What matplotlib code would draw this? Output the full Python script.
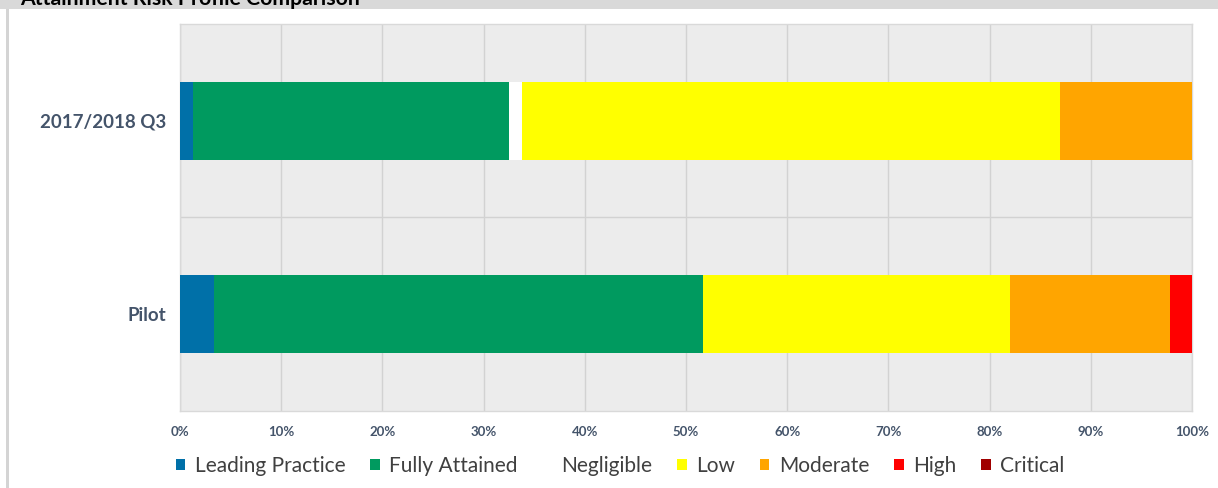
import matplotlib
matplotlib.use("Agg")
import matplotlib.pyplot as plt
from matplotlib.patches import Patch, Rectangle
import numpy as np

plt.rcParams['font.family'] = ['Lato', 'DejaVu Sans']

# Data: share of attainment / risk ratings per period (%)
periods = ["2017/2018 Q3", "Pilot"]
categories = ["Leading Practice", "Fully Attained", "Negligible", "Low", "Moderate", "High", "Critical"]
leading_practice = [1.3, 3.4]
fully_attained = [31.2, 48.3]
negligible = [1.3, 0.0]
low = [53.2, 30.3]
moderate = [13.0, 15.8]
high = [0.0, 2.2]
critical = [0.0, 0.0]
x_ticks = [0, 10, 20, 30, 40, 50, 60, 70, 80, 90, 100]
x_tick_labels = [f"{t}%" for t in x_ticks]

series = [leading_practice, fully_attained, negligible, low, moderate, high, critical]
colors = ["#0070a8", "#009a5f", "#ffffff", "#ffff00", "#ffa500", "#ff0000", "#a00000"]

W, H = 1218, 488
fig = plt.figure(figsize=(W / 100, H / 100), dpi=100)
fig.patch.set_facecolor("white")

# Header band and left frame line
fig.add_artist(Rectangle((0, 1 - 9 / H), 1, 9 / H, transform=fig.transFigure,
                         facecolor="#d9d9d9", edgecolor="none", zorder=0))
fig.add_artist(Rectangle((6 / W, 0), 2.5 / W, 1 - 9 / H, transform=fig.transFigure,
                         facecolor="#d4d4d4", edgecolor="none", zorder=0))
fig.text(20 / W, 1 - 5 / H, "Attainment Risk Profile Comparison", fontsize=15.3,
         fontweight="bold", color="black", va="baseline", ha="left")

ax = fig.add_axes([180 / W, (H - 410.5) / H, (1192 - 180) / W, (410.5 - 24.5) / H])
ax.set_facecolor("#ececec")

y = np.arange(len(periods))
left = np.zeros(len(periods))
for vals, col in zip(series, colors):
    ax.barh(y, vals, left=left, height=0.4, color=col, edgecolor="none", zorder=3)
    left += np.array(vals)

ax.set_xlim(0, 100)
ax.set_ylim(1.5, -0.5)
ax.set_xticks(x_ticks)
ax.set_xticklabels(x_tick_labels)
ax.set_yticks(y)
ax.set_yticklabels(periods)
for t in ax.get_xticklabels():
    t.set_fontsize(9.5)
    t.set_fontweight("bold")
    t.set_color("#44546a")
for t in ax.get_yticklabels():
    t.set_fontsize(13.5)
    t.set_fontweight("bold")
    t.set_color("#44546a")
ax.tick_params(axis="both", length=0)
ax.tick_params(axis="x", pad=11)
ax.tick_params(axis="y", pad=10)

for xv in x_ticks:
    ax.axvline(xv, color="#d2d2d2", linewidth=1, zorder=1)
ax.axhline(0.5, color="#d2d2d2", linewidth=1, zorder=1)
for s in ax.spines.values():
    s.set_color("#d9d9d9")
    s.set_linewidth(1)

handles = [Patch(facecolor=c, edgecolor="none", label=n) for c, n in zip(colors, categories)]
leg = fig.legend(handles=handles, loc="center left", bbox_to_anchor=(176 / W, 1 - 466 / H),
                 ncol=7, frameon=False, fontsize=15, handlelength=0.45, handleheight=0.45,
                 handletextpad=0.45, columnspacing=1.2, borderaxespad=0, borderpad=0)
for t in leg.get_texts():
    t.set_color("#404040")

fig.savefig("out.png", dpi=100)
